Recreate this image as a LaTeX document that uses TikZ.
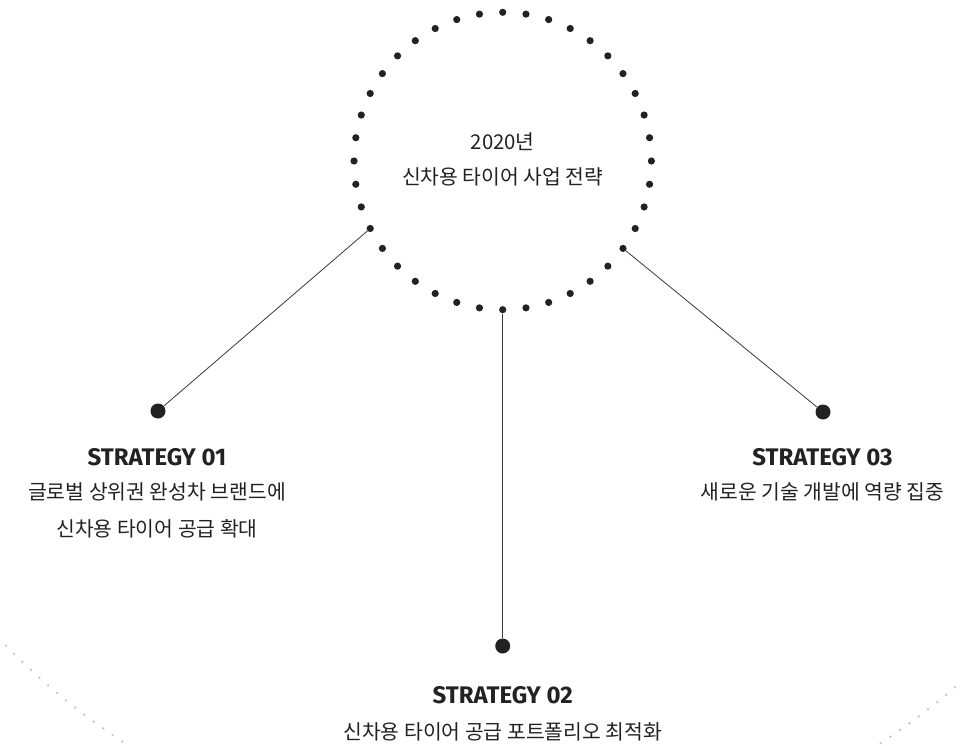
\documentclass[tikz,border=0pt]{standalone}
\usepackage{fontspec}
\setmainfont{Noto Sans CJK KR}
\newfontfamily\headfont{Fira Sans}
\usetikzlibrary{calc}

\definecolor{ink}{HTML}{222222}
\definecolor{ring}{HTML}{C4C4C4}

\tikzset{
  ringdot/.style={circle, fill=ink, inner sep=0pt, minimum size=7.2pt},
  bigdot/.style={circle, fill=ink, inner sep=0pt, minimum size=15pt},
  link/.style={draw=ink!90, line width=0.8pt},
  headline/.style={font=\headfont\bfseries\fontsize{24}{28}\selectfont, text=ink, inner sep=0pt},
  desc/.style={font=\fontsize{20.4}{24}\selectfont, text=ink, inner sep=0pt},
}

\begin{document}
\begin{tikzpicture}[x=1pt,y=1pt]
\useasboundingbox (0,0) rectangle (961,-746);
\clip (0,0) rectangle (961,-746);

\coordinate (C) at (502.7,-161);

% faint outer ring
\foreach \i in {0,...,374}
  \fill[ring] ($(C)+(\i*0.96+0.6:694)$) circle (1.3);

% dotted ring
\foreach \i in {0,...,39}
  \node[ringdot] (c\i) at ($(C)+(\i*9:148.7)$) {};

\node[desc] (T1) at (502.7,-141.5) {2020년};
\node[desc] (T2) at (502.7,-177) {신차용 타이어 사업 전략};

\node[bigdot] (S1dot) at (158,-411) {};
\node[bigdot] (S2dot) at (502.7,-646) {};
\node[bigdot] (S3dot) at (823,-412) {};

\draw[link] (c23) -- (S1dot);
\draw[link] (c30) -- (S2dot);
\draw[link] (c36) -- (S3dot);

\node[headline] (H1) at (157,-457) {STRATEGY 01};
\node[desc] (D1a) at (157,-492) {글로벌 상위권 완성차 브랜드에};
\node[desc] (D1b) at (157,-529) {신차용 타이어 공급 확대};

\node[headline] (H2) at (502.7,-695) {STRATEGY 02};
\node[desc] (D2) at (502.7,-732) {신차용 타이어 공급 포트폴리오 최적화};

\node[headline] (H3) at (822.5,-457) {STRATEGY 03};
\node[desc] (D3) at (822.5,-492) {새로운 기술 개발에 역량 집중};

\end{tikzpicture}
\end{document}
